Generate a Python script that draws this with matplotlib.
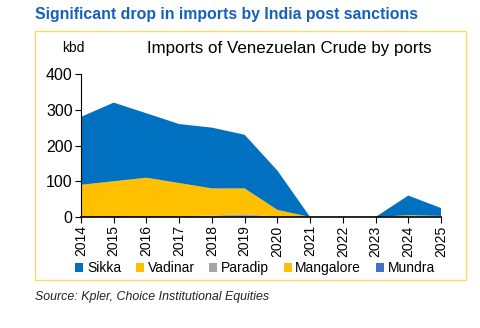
import matplotlib
matplotlib.use("Agg")
import matplotlib.pyplot as plt
from matplotlib.patches import Rectangle, Patch

plt.rcParams['font.family'] = ['Liberation Sans', 'DejaVu Sans']

years = [2014, 2015, 2016, 2017, 2018, 2019, 2020, 2021, 2022, 2023, 2024, 2025]
mundra    = [2, 3, 2, 2, 1, 1, 0, 0, 0, 0, 0, 0]
paradip   = [0, 0, 0, 0, 3, 7, 1, 0, 0, 0, 0, 0]
mangalore = [0, 0, 0, 0, 0, 0, 0, 0, 0, 0, 2, 1]
vadinar   = [88, 97, 108, 93, 76, 72, 19, 0, 0, 0, 3, 2]
sikka     = [190, 220, 180, 165, 170, 150, 110, 0, 0, 0, 55, 22]

W, H = 480, 328
fig = plt.figure(figsize=(W/100, H/100), dpi=100)

ax = fig.add_axes([81/W, 1-217/H, (441-81)/W, (217-74)/H])
series = [mundra, paradip, mangalore, vadinar, sikka]
colors = ['#4472C4', '#A5A5A5', '#FFC000', '#FFC000', '#0070C0']
ax.stackplot(years, *series, colors=colors, linewidth=0)
ax.set_xlim(2014, 2025)
ax.set_ylim(0, 400)
ax.set_yticks([0, 100, 200, 300, 400])
ax.set_xticks(years)
ax.set_xticklabels([str(y) for y in years], rotation=90, fontsize=10)
ax.tick_params(axis='y', labelsize=11.5, length=4, direction='out', pad=2)
ax.tick_params(axis='x', length=4, direction='out', pad=2)
for s in ['top', 'right']:
    ax.spines[s].set_visible(False)
ax.spines['left'].set_color('black')
ax.spines['bottom'].set_color('black')
ax.spines['bottom'].set_linewidth(1.2)

fig.text(35/W, 1-15/H, 'Significant drop in imports by India post sanctions',
         fontsize=11.4, fontweight='bold', color='#1660BC', va='center', ha='left')
fig.text(62/W, 1-48/H, 'kbd', fontsize=10, va='center', ha='left')
fig.text(147/W, 1-48/H, 'Imports of Venezuelan Crude by ports', fontsize=12.2,
         va='center', ha='left')
fig.text(35/W, 1-297/H, 'Source: Kpler, Choice Institutional Equities', fontsize=8.9,
         style='italic', color='#222222', va='center', ha='left')

fig.patches.append(Rectangle((35/W, 1-280/H), (466-35)/W, (280-31)/H,
                             transform=fig.transFigure, fill=False,
                             edgecolor='#FFD966', linewidth=1))

names = ['Sikka', 'Vadinar', 'Paradip', 'Mangalore', 'Mundra']
lcolors = ['#0070C0', '#FFC000', '#A5A5A5', '#FFC000', '#4472C4']
handles = [Patch(facecolor=c, edgecolor='none') for c in lcolors]
fig.legend(handles, names, loc='center', bbox_to_anchor=(255/W, 1-268/H), ncol=5,
           frameon=False, fontsize=10, handlelength=0.6, handleheight=0.6,
           handletextpad=0.25, columnspacing=1.05)

fig.savefig('out.png', dpi=100)
